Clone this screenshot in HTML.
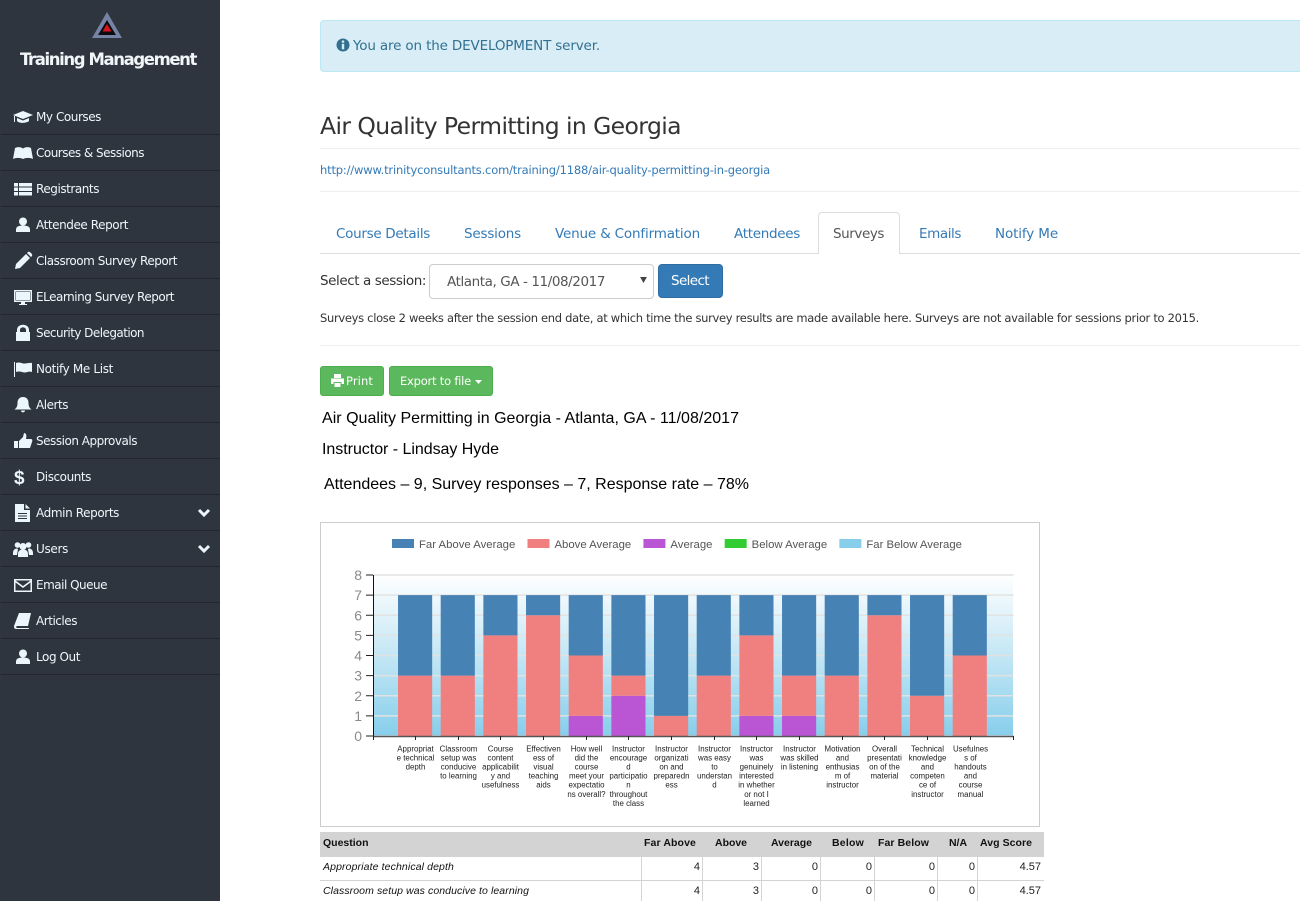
<!DOCTYPE html>
<html lang="en">
<head>
<meta charset="utf-8">
<title>Air Quality Permitting in Georgia</title>
<style>
html,body{margin:0;padding:0;background:#fff;width:1300px;height:901px;overflow:hidden}
#page{position:relative;width:1300px;height:901px;overflow:hidden;font-family:"DejaVu Sans","Liberation Sans",sans-serif}
.t{position:absolute;white-space:nowrap;line-height:20px;height:20px}
.box{position:absolute;box-sizing:border-box}
.a{font-family:"Liberation Sans",Arial,sans-serif}
#sidebar{position:absolute;left:0;top:0;width:220px;height:901px;background:#2f353e}
.row{position:absolute;left:1px;width:219px;height:36px;box-sizing:border-box;border-bottom:1px solid #22272d}
.row .t{left:35px;top:8px;font-size:12px;color:#eef7fb}
.row svg{position:absolute;left:12px;top:8px;width:20px;height:20px;fill:#eaf6fb}
.row .chev{left:196px;top:11px;width:14px;height:14px;fill:none;stroke:#eaf6fb;stroke-width:3}
.tab{color:#337ab7;font-size:13.5px}
.th{font-weight:bold;font-size:10.5px;color:#111;top:833px}
.td{font-size:11px;color:#222;text-align:right;width:40px}
.q{font-size:10.5px;font-style:italic;color:#111}
.v{position:absolute;background:#d3d3d3;width:1px;top:857px;height:44px}
.s0{fill:#4682b4}.s1{fill:#f08080}.s2{fill:#ba55d3}.s3{fill:#32cd32}.s4{fill:#87ceeb}
</style>
</head>
<body>
<div id="page">

<nav id="sidebar">
  <svg style="position:absolute;left:91px;top:11px" width="32" height="28" viewBox="0 0 32 28">
    <polygon points="16,1 31,27 1,27" fill="#7584a5"/>
    <polygon points="16,9 25,24 7,24" fill="#0c0c10"/>
    <polygon points="16,13 20.5,20.5 11.5,20.5" fill="#d8141e"/>
  </svg>
  <span class="t" data-w="176" style="left:20px;top:50px;font-size:16.5px;font-weight:bold;color:#f2f5f7">Training Management</span>

  <div class="row" style="top:99px"><svg viewBox="0 0 20 20"><path d="M10 4 20 8l-10 4L0 8zM4 11v3c2 2.500 9 2.500 12 0v-3l-6 2.500zM1 9v6h1V9z"/></svg><span class="t" data-w="65">My Courses</span></div>
  <div class="row" style="top:135px"><svg viewBox="0 0 20 20"><path d="M0 16 2 5c3-1.500 6-1 8 .5 2-1.500 5-2 8-.5l2 11c-3-1.500-7-1.500-10 0-3-1.500-7-1.500-10 0z"/></svg><span class="t" data-w="108">Courses &amp; Sessions</span></div>
  <div class="row" style="top:171px"><svg viewBox="0 0 20 20"><path d="M1 4h4v3.500H1zM6 4h13v3.500H6zM1 8.500h4V12H1zM6 8.500h13V12H6zM1 13h4v3.500H1zM6 13h13v3.500H6z"/></svg><span class="t" data-w="63">Registrants</span></div>
  <div class="row" style="top:207px"><svg viewBox="0 0 20 20"><circle cx="10" cy="6.500" r="4"/><path d="M3 17v-2.500c0-3 3-4 7-4s7 1 7 4V17z"/></svg><span class="t" data-w="92">Attendee Report</span></div>
  <div class="row" style="top:243px"><svg viewBox="0 0 20 20"><path d="M2 18l1-5L13 3l4 4L7 17zM14 2l1-1c1-.5 2 0 3 1s1.500 2 1 3l-1 1z"/></svg><span class="t" data-w="141">Classroom Survey Report</span></div>
  <div class="row" style="top:279px"><svg viewBox="0 0 20 20"><path d="M1 3h18v12H12v2h2v1H6v-1h2v-2H1zM2.500 4.500v9h15v-9z"/><path d="M3 5h14v8H3z"/></svg><span class="t" data-w="138">ELearning Survey Report</span></div>
  <div class="row" style="top:315px"><svg viewBox="0 0 20 20"><path d="M4 9V7c0-7 12-7 12 0v2h1v9H3V9zm3 0h6V7c0-3.500-6-3.500-6 0z"/></svg><span class="t" data-w="108">Security Delegation</span></div>
  <div class="row" style="top:351px"><svg viewBox="0 0 20 20"><path d="M1 3h1v15H1zM3 4c4-1.500 6 1 9 .5 2-.3 5-1 7-.5v9c-3-1-5 .5-7 .5-3 0-5-2-9-.5z"/></svg><span class="t" data-w="77">Notify Me List</span></div>
  <div class="row" style="top:387px"><svg viewBox="0 0 20 20"><path d="M10 2c4 0 5.500 3 5.500 6 0 3 1 5 3 6.500H1.500c2-1.500 3-3.500 3-6.500 0-3 1.500-6 5.500-6zM8 15.500h4c0 2.500-4 2.500-4 0z"/></svg><span class="t" data-w="32">Alerts</span></div>
  <div class="row" style="top:423px"><svg viewBox="0 0 20 20"><path d="M1 10h4v7H1zM6 10l4-4 1-4c2 0 3 2 2 6h5c1.500 0 1.500 2 1 3l-2 6H6z"/></svg><span class="t" data-w="101">Session Approvals</span></div>
  <div class="row" style="top:459px"><svg viewBox="0 0 20 20"><text x="1" y="17" font-family="Liberation Sans" font-weight="bold" font-size="19">$</text></svg><span class="t" data-w="55">Discounts</span></div>
  <div class="row" style="top:495px"><svg viewBox="0 0 20 20"><path d="M2 1h9v6h6v12H2zM12.500 1 17 5.500h-4.500z"/><path d="M5 10h9v1H5zM5 12.500h9v1H5zM5 15h9v1H5z" fill="#2f353e"/></svg><span class="t" data-w="83">Admin Reports</span><svg class="chev" viewBox="0 0 14 14"><path d="M2 4l5 5 5-5"/></svg></div>
  <div class="row" style="top:531px"><svg viewBox="0 0 20 20"><circle cx="4.500" cy="6" r="2.800"/><circle cx="15.500" cy="6" r="2.800"/><circle cx="10" cy="7.500" r="3.500"/><path d="M0 14c0-3 2-4.500 4-4.500l1 .5-1 6H0zM20 14c0-3-2-4.500-4-4.500l-1 .5 1 6h4zM5 18v-3c0-3 2-4.500 5-4.500s5 1.500 5 4.500v3z"/></svg><span class="t" data-w="32">Users</span><svg class="chev" viewBox="0 0 14 14"><path d="M2 4l5 5 5-5"/></svg></div>
  <div class="row" style="top:567px"><svg viewBox="0 0 20 20"><path d="M1 4h18v13H1zM2.500 5.500 10 11l7.500-5.500zM2.500 7.500v8h15v-8L10 13z" fill-rule="evenodd"/></svg><span class="t" data-w="71">Email Queue</span></div>
  <div class="row" style="top:603px"><svg viewBox="0 0 20 20"><path d="M6 2h12l-3 13H4c-1 0-1 2 0 2h12l-.3 1H3c-2 0-2-2-2-3z"/></svg><span class="t" data-w="41">Articles</span></div>
  <div class="row" style="top:639px"><svg viewBox="0 0 20 20"><circle cx="10" cy="6.500" r="4"/><path d="M3 17v-2.500c0-3 3-4 7-4s7 1 7 4V17z"/></svg><span class="t" data-w="44">Log Out</span></div>
</nav>

<div class="box" style="left:320px;top:20px;width:990px;height:52px;background:#d9edf7;border:1px solid #bce8f1;border-radius:4px"></div>
<svg style="position:absolute;left:336px;top:38px" width="14" height="14" viewBox="0 0 14 14"><circle cx="7" cy="7" r="6.500" fill="#31708f"/><rect x="5.800" y="2.500" width="2.400" height="2.200" fill="#d9edf7"/><rect x="5.800" y="5.800" width="2.400" height="5.500" fill="#d9edf7"/></svg>
<span class="t" data-w="247" style="left:353px;top:36px;font-size:13.5px;color:#31708f">You are on the DEVELOPMENT server.</span>

<span class="t" data-w="361" style="left:320px;top:116px;font-size:23.5px;color:#333">Air Quality Permitting in Georgia</span>
<div class="box" style="left:320px;top:148px;width:980px;height:1px;background:#eee"></div>
<span class="t" data-w="450" style="left:320px;top:160px;font-size:11.5px;color:#337ab7">http://www.trinityconsultants.com/training/1188/air-quality-permitting-in-georgia</span>
<div class="box" style="left:320px;top:191px;width:980px;height:1px;background:#eee"></div>

<div class="box" style="left:320px;top:253px;width:980px;height:1px;background:#ddd"></div>
<span class="t tab" data-w="94" style="left:336px;top:224px">Course Details</span>
<span class="t tab" data-w="57" style="left:464px;top:224px">Sessions</span>
<span class="t tab" data-w="145" style="left:555px;top:224px">Venue &amp; Confirmation</span>
<span class="t tab" data-w="66" style="left:734px;top:224px">Attendees</span>
<div class="box" style="left:818px;top:212px;width:82px;height:42px;background:#fff;border:1px solid #ddd;border-bottom:0;border-radius:4px 4px 0 0"></div>
<span class="t tab" data-w="51" style="left:833px;top:224px;color:#555">Surveys</span>
<span class="t tab" data-w="42" style="left:919px;top:224px">Emails</span>
<span class="t tab" data-w="63" style="left:995px;top:224px">Notify Me</span>

<span class="t" data-w="106" style="left:320px;top:271px;font-size:13.5px;color:#333">Select a session:</span>
<div class="box" style="left:429px;top:264px;width:225px;height:35px;background:#fff;border:1px solid #ccc;border-radius:4px"></div>
<span class="t" data-w="158" style="left:447px;top:272px;font-size:13.5px;color:#555">Atlanta, GA - 11/08/2017</span>
<svg style="position:absolute;left:640px;top:277px" width="7" height="6" viewBox="0 0 8 7"><polygon points="0,0 8,0 4,7" fill="#444"/></svg>
<div class="box" style="left:658px;top:264px;width:65px;height:34px;background:#337ab7;border:1px solid #2e6da4;border-radius:4px"></div>
<span class="t" data-w="38" style="left:671px;top:271px;font-size:13.5px;color:#fff">Select</span>
<span class="t" data-w="879" style="left:320px;top:308px;font-size:11.5px;color:#333">Surveys close 2 weeks after the session end date, at which time the survey results are made available here. Surveys are not available for sessions prior to 2015.</span>
<div class="box" style="left:320px;top:345px;width:980px;height:1px;background:#eee"></div>

<div class="box" style="left:320px;top:366px;width:64px;height:30px;background:#5cb85c;border:1px solid #4cae4c;border-radius:3px"></div>
<svg style="position:absolute;left:331px;top:374px" width="13" height="13" viewBox="0 0 13 13"><path d="M3 0h7v4H3zM0 4.500h13V10h-2.500V8h-8v2H0zM3.500 9h6v4h-6z" fill="#fff"/></svg>
<span class="t" data-w="27" style="left:346px;top:371px;font-size:11.5px;color:#fff">Print</span>
<div class="box" style="left:389px;top:366px;width:104px;height:30px;background:#5cb85c;border:1px solid #4cae4c;border-radius:3px"></div>
<span class="t" data-w="71" style="left:400px;top:371px;font-size:11.5px;color:#fff">Export to file</span>
<svg style="position:absolute;left:475px;top:380px" width="7" height="4" viewBox="0 0 7 4"><polygon points="0,0 7,0 3.500,4" fill="#fff"/></svg>

<span class="t a" data-w="417" style="left:322px;top:409px;font-size:16px;color:#000">Air Quality Permitting in Georgia - Atlanta, GA - 11/08/2017</span>
<span class="t a" data-w="177" style="left:322px;top:440px;font-size:16px;color:#000">Instructor - Lindsay Hyde</span>
<span class="t a" data-w="425" style="left:324px;top:475px;font-size:16px;color:#000">Attendees – 9, Survey responses – 7, Response rate – 78%</span>

<div class="box" style="left:320px;top:522px;width:720px;height:305px;border:1px solid #ccc;background:#fff"></div>
<svg id="chart" style="position:absolute;left:0;top:0" width="1300" height="901" font-family="Liberation Sans, Arial, sans-serif">
  <defs><linearGradient id="plotGrad" x1="0" y1="0" x2="0" y2="1"><stop offset="0" stop-color="#ffffff"/><stop offset="1" stop-color="#87ceeb"/></linearGradient></defs>
</svg>

<div class="box" style="left:320px;top:832px;width:724px;height:25px;background:#d3d3d3"></div>
<span class="t a th" style="left:323px">Question</span>
<span class="t a th" style="left:644px" data-w="52">Far Above</span>
<span class="t a th" style="left:715px" data-w="32">Above</span>
<span class="t a th" style="left:771px" data-w="41">Average</span>
<span class="t a th" style="left:832px" data-w="32">Below</span>
<span class="t a th" style="left:878px" data-w="51">Far Below</span>
<span class="t a th" style="left:949px" data-w="18">N/A</span>
<span class="t a th" style="left:980px" data-w="52">Avg Score</span>

<div class="box" style="left:320px;top:880px;width:724px;height:1px;background:#d3d3d3"></div>
<div class="v" style="left:641px"></div>
<div class="v" style="left:702px"></div>
<div class="v" style="left:761px"></div>
<div class="v" style="left:820px"></div>
<div class="v" style="left:874px"></div>
<div class="v" style="left:937px"></div>
<div class="v" style="left:977px"></div>

<span class="t a q" style="left:323px;top:857px" data-w="131">Appropriate technical depth</span>
<span class="t a td" style="left:660px;top:857px">4</span>
<span class="t a td" style="left:719px;top:857px">3</span>
<span class="t a td" style="left:778px;top:857px">0</span>
<span class="t a td" style="left:832px;top:857px">0</span>
<span class="t a td" style="left:895px;top:857px">0</span>
<span class="t a td" style="left:935px;top:857px">0</span>
<span class="t a td" style="left:1001px;top:857px">4.57</span>

<span class="t a q" style="left:323px;top:881px" data-w="206">Classroom setup was conducive to learning</span>
<span class="t a td" style="left:660px;top:881px">4</span>
<span class="t a td" style="left:719px;top:881px">3</span>
<span class="t a td" style="left:778px;top:881px">0</span>
<span class="t a td" style="left:832px;top:881px">0</span>
<span class="t a td" style="left:895px;top:881px">0</span>
<span class="t a td" style="left:935px;top:881px">0</span>
<span class="t a td" style="left:1001px;top:881px">4.57</span>
</div>

<script>
var categories = [
  'Appropriat|e technical|depth',
  'Classroom|setup was|conducive|to learning',
  'Course|content|applicabilit|y and|usefulness',
  'Effectiven|ess of|visual|teaching|aids',
  'How well|did the|course|meet your|expectatio|ns overall?',
  'Instructor|encourage|d|participatio|n|throughout|the class',
  'Instructor|organizati|on and|preparedn|ess',
  'Instructor|was easy|to|understan|d',
  'Instructor|was|genuinely|interested|in whether|or not I|learned',
  'Instructor|was skilled|in listening',
  'Motivation|and|enthusias|m of|instructor',
  'Overall|presentati|on of the|material',
  'Technical|knowledge|and|competen|ce of|instructor',
  'Usefulnes|s of|handouts|and|course|manual'
];
var farAbove = [4, 4, 2, 1, 3, 4, 6, 4, 2, 4, 4, 1, 5, 3];
var above    = [3, 3, 5, 6, 3, 1, 1, 3, 4, 2, 3, 6, 2, 4];
var average  = [0, 0, 0, 0, 1, 2, 0, 0, 1, 1, 0, 0, 0, 0];
var below    = [0, 0, 0, 0, 0, 0, 0, 0, 0, 0, 0, 0, 0, 0];
var farBelow = [0, 0, 0, 0, 0, 0, 0, 0, 0, 0, 0, 0, 0, 0];
var yTicks   = [0, 1, 2, 3, 4, 5, 6, 7, 8];
var legendNames = ['Far Above Average', 'Above Average', 'Average', 'Below Average', 'Far Below Average'];

(function () {
  var NS = 'http://www.w3.org/2000/svg';
  var svg = document.getElementById('chart');
  var left = 373, right = 1013, top = 575, bottom = 736, yMax = 8;
  var step = (right - left) / (categories.length + 1);
  function yScale(v) { return bottom - (v / yMax) * (bottom - top); }
  function xCenter(i) { return left + 42.1 + step * i; }
  var barW = step * 0.8;
  // Stacking order, bottom to top; index selects the series class s0..s4
  var stack = [
    { values: farBelow, cls: 4, name: 'far-below' },
    { values: below, cls: 3, name: 'below' },
    { values: average, cls: 2, name: 'average' },
    { values: above, cls: 1, name: 'above' },
    { values: farAbove, cls: 0, name: 'far-above' }
  ];
  function mk(tag, attrs, parent) {
    var e = document.createElementNS(NS, tag);
    for (var k in attrs) e.setAttribute(k, attrs[k]);
    (parent || svg).appendChild(e);
    return e;
  }

  var bg = mk('rect', { x: left, y: top, width: right - left, height: bottom - top, fill: 'url(#plotGrad)' });
  
  

  yTicks.forEach(function (t) {
    var y = yScale(t);
    var g = mk('line', { x1: left, x2: right + 0.5, y1: y, y2: y, stroke: '#e2e2e2', 'stroke-width': 1.5 });
    
    
  });

  categories.forEach(function (c, i) {
    var base = 0;
    stack.forEach(function (s) {
      var v = s.values[i];
      if (v > 0) {
        var r = mk('rect', { x: xCenter(i) - barW / 2, y: yScale(base + v), width: barW, height: yScale(base) - yScale(base + v), 'class': 's' + s.cls });
        
        
      }
      base += v;
    });
  });

  yTicks.forEach(function (t) {
    var y = yScale(t);
    var tick = mk('line', { x1: left - 7, x2: left, y1: y, y2: y, stroke: '#222', 'stroke-width': 1 });
    
    
    var lab = mk('text', { x: 362, y: y + 5, 'text-anchor': 'end', 'font-size': 14, fill: '#8a8a8a' });
    lab.textContent = t;
    
    
  });

  var yAxis = mk('line', { x1: left + 0.5, x2: left + 0.5, y1: top, y2: bottom + 1, stroke: '#111', 'stroke-width': 1 });
  
  
  var xAxis = mk('line', { x1: left, x2: right + 1, y1: bottom + 0.5, y2: bottom + 0.5, stroke: '#555', 'stroke-width': 1.5 });
  
  
  var xEndL = mk('line', { x1: left + 0.5, x2: left + 0.5, y1: bottom, y2: bottom + 4, stroke: '#222' });
  
  
  var xEndR = mk('line', { x1: right + 0.5, x2: right + 0.5, y1: bottom, y2: bottom + 4, stroke: '#222' });
  
  

  categories.forEach(function (c, i) {
    var cx = Math.round(xCenter(i)) + 0.5;
    var tick = mk('line', { x1: cx, x2: cx, y1: bottom, y2: bottom + 4, stroke: '#222' });
    
    
    var label = mk('text', { 'text-anchor': 'middle', 'font-size': 7.9, fill: '#222' });
    
    
    c.split('|').forEach(function (line, n) {
      var ts = mk('tspan', { x: cx, y: bottom + 15.5 + n * 9.05 }, label);
      ts.textContent = line;
    });
  });

  // Legend: entries flow left to right, each swatch followed by its label
  var lx = 392;
  legendNames.forEach(function (name, i) {
    var sw = mk('rect', { x: lx, y: 539, width: 22, height: 9, 'class': 's' + i });
    
    
    var txt = mk('text', { x: lx + 27, y: 548, 'font-size': 11.35, fill: '#555' });
    txt.textContent = name;
    
    
    lx += 27 + txt.getComputedTextLength() + 12.2;
  });

  // Fit proportional text to its measured width in the layout
  var fit = document.querySelectorAll('[data-w]');
  for (var i = 0; i < fit.length; i++) {
    var el = fit[i];
    var w = el.getBoundingClientRect().width;
    var n = el.textContent.length;
    el.style.letterSpacing = ((parseFloat(el.getAttribute('data-w')) - w) / n).toFixed(3) + 'px';
  }
})();
</script>
</body>
</html>
